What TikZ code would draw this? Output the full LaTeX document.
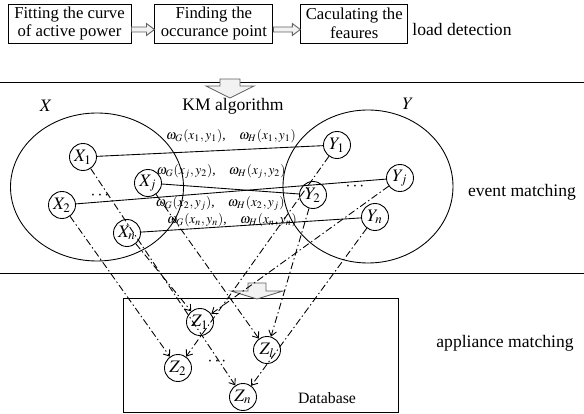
\documentclass[tikz,border=0pt]{standalone}
\usepackage{mathptmx}
\usepackage{fontspec}
\setmainfont{Liberation Serif}
\usetikzlibrary{positioning,arrows.meta}

\begin{document}
\begin{tikzpicture}[line width=0.5pt, font=\fontsize{10}{11}\selectfont,
  stage/.style={draw, align=center, minimum height=0.78cm, inner sep=1.5pt, font=\fontsize{9.5}{10.5}\selectfont},
  event/.style={draw, circle, minimum size=0.54cm, inner sep=0pt},
  weight/.style={font=\fontsize{7.6}{8.5}\selectfont, inner sep=0pt},
  match/.style={-{Straight Barb[length=3pt,width=4.5pt]}, dash pattern=on 4pt off 1.6pt on 0.8pt off 1.6pt},
  hollow/.style={draw=gray!75!black, fill=gray!10}]
\useasboundingbox (0,0) rectangle (11.68,8.28);

% load detection
\node[stage, minimum width=2.46cm] (fit) at (1.39,7.81) {Fitting the curve\\of active power};
\node[stage, minimum width=2.36cm, right=0.46cm of fit] (occ) {Finding the\\occurance point};
\node[stage, minimum width=2.14cm, right=0.54cm of occ] (feat) {Caculating the\\feaures};
\node (load) at (9.24,7.70) {load detection};
\draw[hollow] ([yshift=-0.07cm]fit.east) -- ++(0.30,0) -- ++(0,0.07) -- ++(0.16,-0.12) -- ++(-0.16,-0.12) -- ++(0,0.07) -- ++(-0.30,0) -- cycle;
\draw[hollow] ([yshift=-0.07cm]occ.east) -- ++(0.38,0) -- ++(0,0.07) -- ++(0.16,-0.12) -- ++(-0.16,-0.12) -- ++(0,0.07) -- ++(-0.38,0) -- cycle;

\draw (0,6.64) -- (11.68,6.64);
\draw[hollow] (4.40,6.70) -- (4.80,6.70) -- (4.80,6.56) -- (5.08,6.56) -- (4.60,6.32) -- (4.12,6.56) -- (4.40,6.56) -- cycle;

% event matching
\node (setX) at (0.92,6.16) {$X$};
\node (km) at (4.66,6.16) {KM algorithm};
\node (setY) at (8.16,6.20) {$Y$};
\draw (1.94,4.54) ellipse (1.73 and 1.48);
\draw (7.36,4.55) ellipse (1.70 and 1.53);

\node[event] (X1) at (1.66,5.14) {$X_1$};
\node[event] (Xj) at (2.96,4.62) {$X_j$};
\node[event] (X2) at (1.24,4.18) {$X_2$};
\node[event] (Xn) at (2.54,3.62) {$X_n$};
\node (xdots) at (2.00,4.36) {$\cdots$};
\node[event] (Y1) at (6.74,5.38) {$Y_1$};
\node[event] (Yj) at (8.00,4.72) {$Y_j$};
\node[event] (Y2) at (6.26,4.38) {$Y_2$};
\node[event] (Yn) at (7.50,3.94) {$Y_n$};
\node (ydots) at (7.10,4.54) {$\cdots$};

\draw (X1) -- (Y1);
\draw (Xj) -- (Y2);
\draw (X2) -- (Yj);
\draw (Xn) -- (Yn);

\node[weight] (w1) at (4.62,5.55) {$\omega_G(x_1, y_1)$,\quad$\omega_H(x_1, y_1)$};
\node[weight] (wj) at (4.42,4.85) {$\omega_G(x_j, y_2)$,\quad$\omega_H(x_j, y_2)$};
\node[weight] (w2) at (4.40,4.21) {$\omega_G(x_2, y_j)$,\quad$\omega_H(x_2, y_j)$};
\node[weight] (wn) at (4.64,3.87) {$\omega_G(x_n, y_n)$,\quad$\omega_H(x_n, y_n)$};
\node (event) at (10.44,4.44) {event matching};

\draw (0,2.82) -- (11.68,2.82);

% appliance matching
\node[draw, minimum width=5.5cm, minimum height=2.28cm, inner sep=0pt] (db) at (5.21,1.18) {};
\draw[hollow] (4.96,2.62) -- (5.32,2.62) -- (5.32,2.46) -- (5.66,2.46) -- (5.14,2.30) -- (4.62,2.46) -- (4.96,2.46) -- cycle;
\node[event] (Z1) at (4.00,1.84) {$Z_1$};
\node[event] (Zl) at (5.34,1.28) {$Z_l$};
\node[event] (Z2) at (3.56,0.92) {$Z_2$};
\node[event] (Zn) at (4.86,0.34) {$Z_n$};
\node (zdots) at (4.34,1.04) {$\cdots$};
\node[font=\fontsize{9}{10}\selectfont] (base) at (6.54,0.32) {Database};
\node (appl) at (10.10,1.42) {appliance matching};

\draw[match] (X1) -- (Zn);
\draw[match] (X2) -- (Z2);
\draw[match] (Xj) -- (Zl);
\draw[match] (Xn) -- (Z1);
\draw[match] (Y1) -- (Z2);
\draw[match] (Y2) -- (Zl);
\draw[match] (Yj) -- (Z1);
\draw[match] (Yn) -- (Zn);
\end{tikzpicture}
\end{document}
